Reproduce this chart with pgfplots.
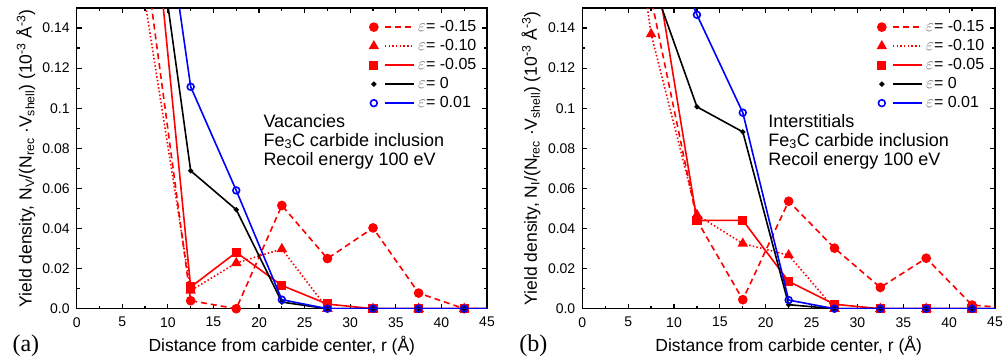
\documentclass[border=0pt]{standalone}
\usepackage{fontspec}
\setmainfont{Liberation Sans}
\newfontfamily\timesfont{Liberation Serif}
\usepackage{pgfplots}
\pgfplotsset{compat=1.18}

\pgfplotsset{
  panel/.style={
    scale only axis,
    clip mode=individual,
    height=300.7pt,
    xmin=0,xmax=45,ymin=0,ymax=0.15,
    xtick={0,5,...,45},
    xticklabels={0,5,10,15,20,25,30,35,40,45},
    ytick={0,0.02,0.04,0.06,0.08,0.1,0.12,0.14},
    yticklabels={0.0,0.02,0.04,0.06,0.08,0.1,0.12,0.14},
    minor x tick num=1, minor y tick num=1,
    tick align=inside,
    major tick length=5pt, minor tick length=3pt,
    axis line style={line width=1.3pt},
    every tick/.style={black,line width=1.2pt},
    tick label style={font=\fontsize{14}{16}\selectfont},
    xticklabel style={yshift=-5pt},
    yticklabel style={xshift=-3.5pt},
    label style={font=\fontsize{17.5}{20}\selectfont},
    xlabel={Distance from carbide center, r (Å)},
    xlabel style={at={(axis description cs:0.5,-0.143)},anchor=base},
    ylabel style={at={(axis description cs:-0.11,0.5)},anchor=base},
    legend image code/.code={
      \draw[##1,mark=none] (11pt,0pt) -- (40pt,0pt);
      \draw[##1] plot coordinates {(0pt,0pt)};
      \path[draw=none,fill=none] (-4pt,-4pt) rectangle (40pt,4pt);
    },
    legend style={draw=none, fill=none, at={(axis description cs:0.983,0.962)}, anchor=north east,
      font=\fontsize{16}{18}\selectfont, row sep=4pt, inner sep=0pt,
      nodes={inner ysep=0pt, inner xsep=3.5pt, text height=12pt, text depth=3pt}},
    legend cell align=left,
  },
  sA/.style={red, line width=1.6pt, dash pattern=on 6pt off 4pt, mark=*, mark size=4pt, mark options={solid}},
  sB/.style={red, line width=1.6pt, dash pattern=on 1.5pt off 2.2pt, mark=triangle*, mark size=4.5pt, mark options={solid}},
  sC/.style={red, line width=1.6pt, solid, mark=square*, mark size=3.8pt, mark options={solid}},
  sD/.style={black, line width=1.6pt, solid, mark=*, mark size=1.7pt, mark options={solid}},
  sE/.style={blue, line width=1.6pt, solid, mark=o, mark size=3.4pt, mark options={solid, line width=1.6pt}},
}

\begin{document}
\begin{tikzpicture}
\useasboundingbox (0,0) rectangle (1003pt,362pt);
% ---------------- panel (a)
\begin{axis}[panel, width=410.3pt, at={(76.7pt,53.3pt)}, anchor=south west,
  ylabel={Yield density, N\textsubscript{V}/(N\textsubscript{rec} ·V\textsubscript{shell}) (10\textsuperscript{-3} Å\textsuperscript{-3})}]
% lines (all points, some beyond the top of the axis)
\addplot[sA, mark=none, forget plot] coordinates {(2.5,0.35)(7.5,0.175)(12.5,0.004)(17.5,0.0)(22.5,0.0515)(27.5,0.025)(32.5,0.0403)(37.5,0.0078)(42.5,0.0)(47.5,0)};
\addplot[sA, only marks] coordinates {(12.5,0.004)(17.5,0.0)(22.5,0.0515)(27.5,0.025)(32.5,0.0403)(37.5,0.0078)(42.5,0.0)};
\addlegendentry{{\color{black!60}$\varepsilon$}= -0.15}
\addplot[sB, mark=none, forget plot] coordinates {(2.5,0.33)(7.5,0.153)(12.5,0.009)(17.5,0.0228)(22.5,0.0298)(27.5,0.0)(32.5,0)(37.5,0)(42.5,0)(47.5,0)};
\addplot[sB, only marks] coordinates {(12.5,0.009)(17.5,0.0228)(22.5,0.0298)(27.5,0.0)(32.5,0)(37.5,0)(42.5,0)};
\addlegendentry{{\color{black!60}$\varepsilon$}= -0.10}
\addplot[sC, mark=none, forget plot] coordinates {(2.5,0.4)(7.5,0.243)(12.5,0.0108)(17.5,0.0281)(22.5,0.0116)(27.5,0.0023)(32.5,0)(37.5,0)(42.5,0)(47.5,0)};
\addplot[sC, only marks] coordinates {(12.5,0.0108)(17.5,0.0281)(22.5,0.0116)(27.5,0.0023)(32.5,0)(37.5,0)(42.5,0)};
\addlegendentry{{\color{black!60}$\varepsilon$}= -0.05}
\addplot[sD, mark=none, forget plot] coordinates {(2.5,0.4)(7.5,0.234)(12.5,0.0688)(17.5,0.0494)(22.5,0.0033)(27.5,0)(32.5,0)(37.5,0)(42.5,0)(47.5,0)};
\addplot[sD, only marks] coordinates {(12.5,0.0688)(17.5,0.0494)(22.5,0.0033)(27.5,0)(32.5,0)(37.5,0)(42.5,0)};
\addlegendentry{{\color{black!60}$\varepsilon$}= 0}
\addplot[sE, mark=none, forget plot] coordinates {(2.5,0.4)(7.5,0.27)(12.5,0.1107)(17.5,0.059)(22.5,0.0045)(27.5,0)(32.5,0)(37.5,0)(42.5,0)(47.5,0)};
\addplot[sE, only marks] coordinates {(12.5,0.1107)(17.5,0.059)(22.5,0.0045)(27.5,0)(32.5,0)(37.5,0)(42.5,0)};
\addlegendentry{{\color{black!60}$\varepsilon$}= 0.01}
\node[anchor=base west, font=\fontsize{18}{20}\selectfont] at (axis cs:20.1,0.0906) {Vacancies};
\node[anchor=base west, font=\fontsize{18}{20}\selectfont] at (axis cs:20.1,0.0811) {Fe\textsubscript{3}C carbide inclusion};
\node[anchor=base west, font=\fontsize{18}{20}\selectfont] at (axis cs:20.1,0.0716) {Recoil energy 100 eV};
\node[anchor=base west, font=\timesfont\fontsize{24}{26}\selectfont] at (axis description cs:-0.165,-0.143) {(a)};
\end{axis}
% ---------------- panel (b)
\begin{axis}[panel, width=412.7pt, at={(582.3pt,53.3pt)}, anchor=south west,
  ylabel={Yield density, N\textsubscript{I}/(N\textsubscript{rec} ·V\textsubscript{shell}) (10\textsuperscript{-3} Å\textsuperscript{-3})}]
\addplot[sA, mark=none, forget plot] coordinates {(2.5,0.3)(7.5,0.155)(12.5,0.0441)(17.5,0.0045)(22.5,0.0536)(27.5,0.0302)(32.5,0.0106)(37.5,0.0252)(42.5,0.0018)(47.5,0)};
\addplot[sA, only marks] coordinates {(12.5,0.0441)(17.5,0.0045)(22.5,0.0536)(27.5,0.0302)(32.5,0.0106)(37.5,0.0252)(42.5,0.0018)};
\addlegendentry{{\color{black!60}$\varepsilon$}= -0.15}
\addplot[sB, mark=none, forget plot] coordinates {(2.5,0.3)(7.5,0.137)(12.5,0.0468)(17.5,0.0325)(22.5,0.0267)(27.5,0)(32.5,0)(37.5,0)(42.5,0)(47.5,0)};
\addplot[sB, only marks] coordinates {(7.5,0.137)(12.5,0.0468)(17.5,0.0325)(22.5,0.0267)(27.5,0)(32.5,0)(37.5,0)(42.5,0)};
\addlegendentry{{\color{black!60}$\varepsilon$}= -0.10}
\addplot[sC, mark=none, forget plot] coordinates {(2.5,0.3)(7.5,0.184)(12.5,0.044)(17.5,0.0441)(22.5,0.0136)(27.5,0.0022)(32.5,0)(37.5,0)(42.5,0)(47.5,0)};
\addplot[sC, only marks] coordinates {(12.5,0.044)(17.5,0.0441)(22.5,0.0136)(27.5,0.0022)(32.5,0)(37.5,0)(42.5,0)};
\addlegendentry{{\color{black!60}$\varepsilon$}= -0.05}
\addplot[sD, mark=none, forget plot] coordinates {(2.5,0.3)(7.5,0.165)(12.5,0.1007)(17.5,0.0882)(22.5,0.002)(27.5,0)(32.5,0)(37.5,0)(42.5,0)(47.5,0)};
\addplot[sD, only marks] coordinates {(12.5,0.1007)(17.5,0.0882)(22.5,0.002)(27.5,0)(32.5,0)(37.5,0)(42.5,0)};
\addlegendentry{{\color{black!60}$\varepsilon$}= 0}
\addplot[sE, mark=none, forget plot] coordinates {(2.5,0.35)(7.5,0.203)(12.5,0.1466)(17.5,0.0978)(22.5,0.0043)(27.5,0)(32.5,0)(37.5,0)(42.5,0)(47.5,0)};
\addplot[sE, only marks] coordinates {(12.5,0.1466)(17.5,0.0978)(22.5,0.0043)(27.5,0)(32.5,0)(37.5,0)(42.5,0)};
\addlegendentry{{\color{black!60}$\varepsilon$}= 0.01}
\node[anchor=base west, font=\fontsize{18}{20}\selectfont] at (axis cs:19.9,0.0906) {Interstitials};
\node[anchor=base west, font=\fontsize{18}{20}\selectfont] at (axis cs:19.9,0.0811) {Fe\textsubscript{3}C carbide inclusion};
\node[anchor=base west, font=\fontsize{18}{20}\selectfont] at (axis cs:19.9,0.0716) {Recoil energy 100 eV};
\node[anchor=base west, font=\timesfont\fontsize{24}{26}\selectfont] at (axis description cs:-0.161,-0.143) {(b)};
\end{axis}
\end{tikzpicture}
\end{document}
